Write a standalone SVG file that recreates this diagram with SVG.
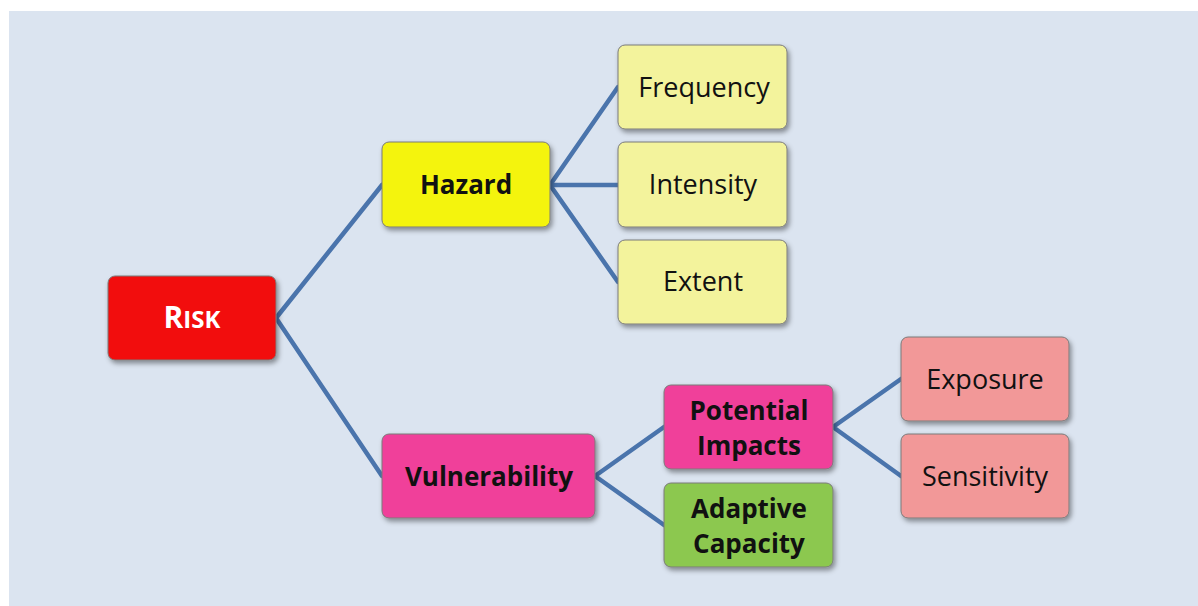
<svg xmlns="http://www.w3.org/2000/svg" width="1198" height="606" viewBox="0 0 1198 606">
<defs>
<filter id="sh" x="-20%" y="-20%" width="140%" height="150%">
<feDropShadow dx="2" dy="3" stdDeviation="2.5" flood-color="#000" flood-opacity="0.4"/>
</filter>
</defs>
<style>
.box{stroke:#7a7a7a;stroke-width:1;filter:url(#sh)}
.t{font-family:"Open Sans","Liberation Sans",sans-serif;font-size:27px;fill:#111;text-anchor:middle}
.b{font-weight:bold;font-size:26px}
.c{fill:none;stroke:#4a74ac;stroke-width:4.5;stroke-linecap:round;stroke-linejoin:round}
</style>
<rect x="0" y="0" width="1198" height="606" fill="#fff"/>
<rect x="9" y="11" width="1189" height="595" fill="#dbe4f0"/>
<g id="connectors">
<polyline class="c" points="382,185 276,318 382,476"/>
<polyline class="c" points="618,87 550,185 618,282"/>
<line class="c" x1="550" y1="185" x2="618" y2="185"/>
<polyline class="c" points="664,427 595,476 664,525"/>
<polyline class="c" points="901,379 833,427 901,476"/>
</g>
<g id="risk"><rect class="box" x="108" y="276" width="168" height="84" rx="7" fill="#f21010"/><text class="t b" x="192" y="328" style="fill:#fff"><tspan font-size="30">R</tspan><tspan font-size="24">ISK</tspan></text></g>
<g id="hazard"><rect class="box" x="382" y="142" width="168" height="85" rx="7" fill="#f4f40a"/><text class="t b" x="466" y="194">Hazard</text></g>
<g id="frequency"><rect class="box" x="618" y="45" width="169" height="84" rx="7" fill="#f3f39c"/><text class="t" x="704" y="97">Frequency</text></g>
<g id="intensity"><rect class="box" x="618" y="142" width="169" height="85" rx="7" fill="#f3f39c"/><text class="t" x="703" y="194">Intensity</text></g>
<g id="extent"><rect class="box" x="618" y="240" width="169" height="84" rx="7" fill="#f3f39c"/><text class="t" x="703" y="291">Extent</text></g>
<g id="vulnerability"><rect class="box" x="382" y="434" width="213" height="84" rx="7" fill="#f0409a"/><text class="t b" x="489" y="486">Vulnerability</text></g>
<g id="potential-impacts"><rect class="box" x="664" y="385" width="169" height="84" rx="7" fill="#f0409a"/><text class="t b" x="749" y="420">Potential</text><text class="t b" x="749" y="455">Impacts</text></g>
<g id="adaptive-capacity"><rect class="box" x="664" y="483" width="169" height="84" rx="7" fill="#8cc850"/><text class="t b" x="749" y="518">Adaptive</text><text class="t b" x="749" y="553">Capacity</text></g>
<g id="exposure"><rect class="box" x="901" y="337" width="168" height="84" rx="7" fill="#f29898"/><text class="t" x="985" y="389">Exposure</text></g>
<g id="sensitivity"><rect class="box" x="901" y="434" width="168" height="84" rx="7" fill="#f29898"/><text class="t" x="985" y="486">Sensitivity</text></g>
</svg>
